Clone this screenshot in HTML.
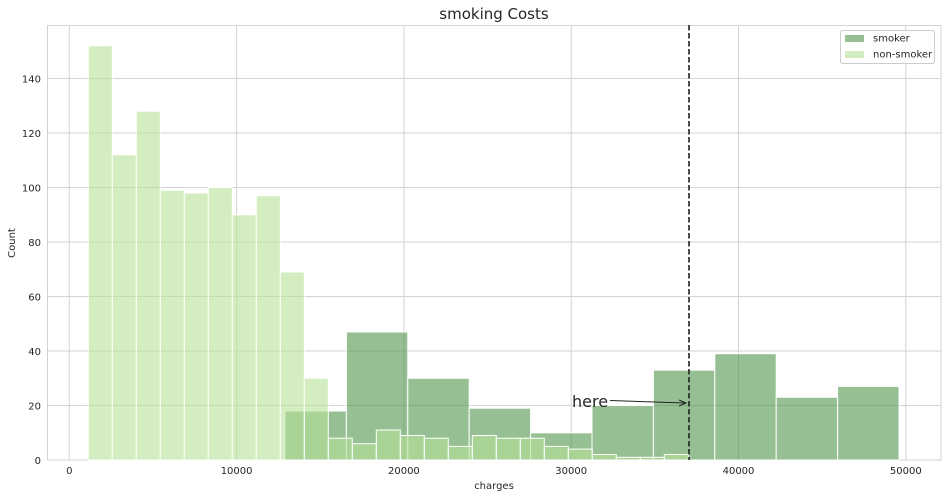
<!DOCTYPE html>
<html><head><meta charset="utf-8"><style>
body{margin:0;background:#fff}
svg{display:block;font-family:"DejaVu Sans","Liberation Sans",sans-serif}
</style></head><body>
<svg width="947" height="498" viewBox="0 0 947 498">
<rect width="947" height="498" fill="#fff"/>
<g stroke="#d3d3d3" stroke-width="1">
<line x1="69.3" y1="25" x2="69.3" y2="460"/>
<line x1="236.6" y1="25" x2="236.6" y2="460"/>
<line x1="403.9" y1="25" x2="403.9" y2="460"/>
<line x1="571.2" y1="25" x2="571.2" y2="460"/>
<line x1="738.5" y1="25" x2="738.5" y2="460"/>
<line x1="905.8" y1="25" x2="905.8" y2="460"/>
<line x1="47.5" y1="405.5" x2="941" y2="405.5"/>
<line x1="47.5" y1="351" x2="941" y2="351"/>
<line x1="47.5" y1="296.5" x2="941" y2="296.5"/>
<line x1="47.5" y1="242" x2="941" y2="242"/>
<line x1="47.5" y1="187.5" x2="941" y2="187.5"/>
<line x1="47.5" y1="133" x2="941" y2="133"/>
<line x1="47.5" y1="78.5" x2="941" y2="78.5"/>
</g>
<rect x="47.5" y="25.5" width="893.5" height="434.5" fill="none" stroke="#d3d3d3"/>
<g fill="rgba(80,150,75,0.6)" stroke="#fff" stroke-width="1">
<rect x="285" y="411" width="61.4" height="49"/>
<rect x="346.4" y="332" width="61.4" height="128"/>
<rect x="407.8" y="378.3" width="61.4" height="81.7"/>
<rect x="469.2" y="408.2" width="61.4" height="51.8"/>
<rect x="530.6" y="432.8" width="61.4" height="27.2"/>
<rect x="592" y="405.5" width="61.4" height="54.5"/>
<rect x="653.4" y="370.1" width="61.4" height="89.9"/>
<rect x="714.8" y="353.7" width="61.4" height="106.3"/>
<rect x="776.2" y="397.3" width="61.4" height="62.7"/>
<rect x="837.6" y="386.4" width="61.4" height="73.6"/>
</g>
<g fill="rgba(181,225,152,0.6)" stroke="#fff" stroke-width="1">
<rect x="88.3" y="45.8" width="24" height="414.2"/>
<rect x="112.3" y="154.8" width="24" height="305.2"/>
<rect x="136.3" y="111.2" width="24" height="348.8"/>
<rect x="160.3" y="190.2" width="24" height="269.8"/>
<rect x="184.3" y="193" width="24" height="267"/>
<rect x="208.3" y="187.5" width="24" height="272.5"/>
<rect x="232.3" y="214.8" width="24" height="245.2"/>
<rect x="256.3" y="195.7" width="24" height="264.3"/>
<rect x="280.3" y="272" width="24" height="188"/>
<rect x="304.3" y="378.3" width="24" height="81.7"/>
<rect x="328.3" y="438.2" width="24" height="21.8"/>
<rect x="352.3" y="443.7" width="24" height="16.3"/>
<rect x="376.3" y="430" width="24" height="30"/>
<rect x="400.3" y="435.5" width="24" height="24.5"/>
<rect x="424.3" y="438.2" width="24" height="21.8"/>
<rect x="448.3" y="446.4" width="24" height="13.6"/>
<rect x="472.3" y="435.5" width="24" height="24.5"/>
<rect x="496.3" y="438.2" width="24" height="21.8"/>
<rect x="520.3" y="438.2" width="24" height="21.8"/>
<rect x="544.3" y="446.4" width="24" height="13.6"/>
<rect x="568.3" y="449.1" width="24" height="10.9"/>
<rect x="592.3" y="454.5" width="24" height="5.5"/>
<rect x="616.3" y="457.3" width="24" height="2.7"/>
<rect x="640.3" y="457.3" width="24" height="2.7"/>
<rect x="664.3" y="454.5" width="24" height="5.5"/>
</g>
<line x1="689" y1="25" x2="689" y2="460" stroke="#222" stroke-width="1.6" stroke-dasharray="5.5,2.5"/>
<text x="572" y="407" font-size="16" fill="#262626">here</text>
<line x1="610" y1="400.5" x2="685" y2="403" stroke="#222" stroke-width="1"/>
<path d="M679,400 L686,403 L679,406" fill="none" stroke="#222" stroke-width="1"/>
<g font-size="10" fill="#262626">
<g text-anchor="end">
<text x="41" y="464">0</text>
<text x="41" y="409.5">20</text>
<text x="41" y="355">40</text>
<text x="41" y="300.5">60</text>
<text x="41" y="246">80</text>
<text x="41" y="191.5">100</text>
<text x="41" y="137">120</text>
<text x="41" y="82.5">140</text>
</g>
<g text-anchor="middle">
<text x="69.3" y="474">0</text>
<text x="236.6" y="474">10000</text>
<text x="403.9" y="474">20000</text>
<text x="571.2" y="474">30000</text>
<text x="738.5" y="474">40000</text>
<text x="905.8" y="474">50000</text>
<text x="494" y="489">charges</text>
<text transform="translate(15,243) rotate(-90)">Count</text>
</g>
</g>
<text x="494" y="19" font-size="15" text-anchor="middle" fill="#262626">smoking Costs</text>
<rect x="840.5" y="30.5" width="94" height="33" rx="2" fill="#fff" fill-opacity="0.8" stroke="#ccc"/>
<rect x="845" y="35" width="19" height="7" fill="rgba(80,150,75,0.6)"/>
<rect x="845" y="51" width="19" height="7" fill="rgba(181,225,152,0.6)"/>
<text x="873" y="41.5" font-size="10" fill="#262626">smoker</text>
<text x="873" y="57.5" font-size="10" fill="#262626">non-smoker</text>
</svg>
</body></html>
